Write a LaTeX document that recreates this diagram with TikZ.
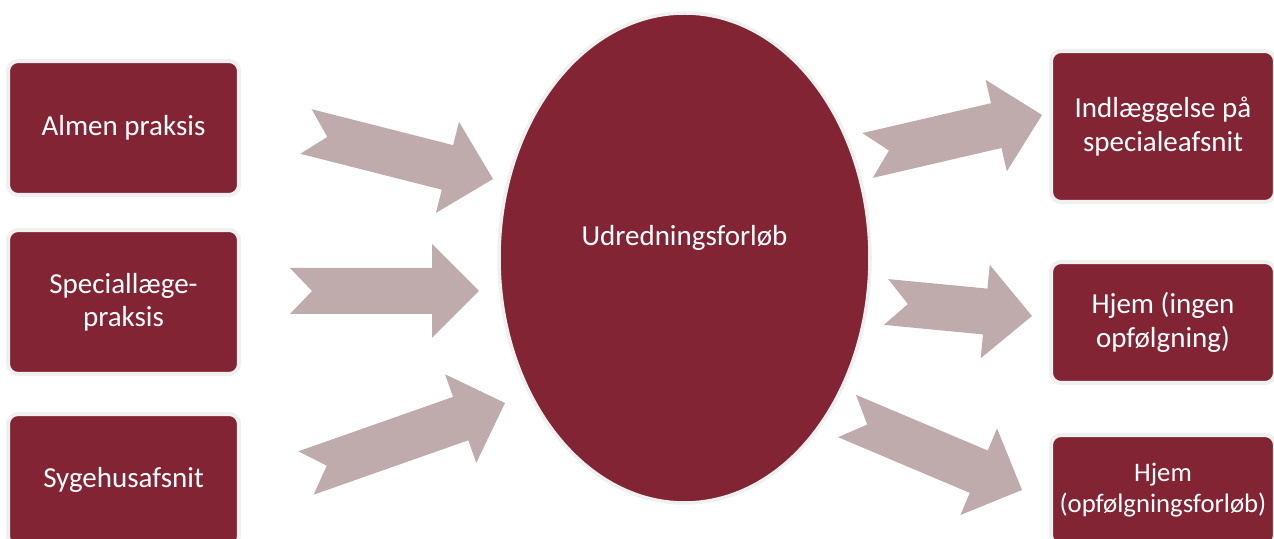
\documentclass[tikz,border=0pt]{standalone}
\usepackage{fontspec}
\setmainfont{Carlito}
\usetikzlibrary{shapes.geometric, positioning, calc}

\definecolor{boxred}{HTML}{822433}
\definecolor{arrowgrey}{HTML}{BFABAC}
\definecolor{rimgrey}{HTML}{EEF1F0}

% fat arrow with notched tail, from #1 (tail) to #2 (tip)
\newcommand{\blockarrow}[2]{%
  \coordinate (headbase) at ($(#2)!0.94cm!(#1)$);
  \fill[arrowgrey]
    ($(#1)!0.46cm!90:(#2)$) -- ($(headbase)!0.46cm!-90:(#1)$)
    -- ($(headbase)!0.94cm!-90:(#1)$) -- (#2)
    -- ($(headbase)!0.94cm!90:(#1)$) -- ($(headbase)!0.46cm!90:(#1)$)
    -- ($(#1)!0.46cm!-90:(#2)$) -- ($(#1)!0.44cm!(#2)$) -- cycle;
}

\begin{document}
\begin{tikzpicture}[
    box/.style={draw=rimgrey, line width=2.3pt, fill=boxred, rounded corners=0.2cm,
      text=white, align=center, inner sep=2pt, font=\fontsize{16.5}{19}\selectfont},
    hub/.style={draw=rimgrey, line width=2pt, fill=boxred, ellipse, inner sep=0pt}
  ]
            \useasboundingbox (0,0) rectangle (25.48,10.78);

            % sources
            \node[box, minimum width=4.62cm, minimum height=2.68cm] (almen) at (2.47,8.22) {Almen praksis};
            \node[box, minimum width=4.62cm, minimum height=2.88cm] (speclaege) at (2.47,4.74) {Speciallæge-\\praksis};
            \node[box, minimum width=4.62cm, minimum height=2.64cm] (sygehus) at (2.47,1.18) {Sygehusafsnit};

            % centre
            \node[
                hub,
                minimum width=7.42cm,
                minimum height=9.8cm,
                label={[text=white, yshift=0.4cm, font=\fontsize{16.5}{19}\selectfont]center:Udredningsforløb}
            ] (udred) at (13.69,5.62) {};

            % outcomes
            \node[box, minimum width=4.48cm, minimum height=3.02cm] (indlaeg) at (23.26,8.25) {Indlæggelse på\\specialeafsnit};
            \node[box, minimum width=4.48cm, minimum height=2.42cm] (hjemingen) at (23.26,4.33) {Hjem (ingen\\opfølgning)};
            \node[box, minimum width=4.48cm, minimum height=2.2cm, font=\fontsize{15.2}{18}\selectfont] (hjemopf) at (23.26,0.98) {Hjem\\(opfølgningsforløb)};

            % arrow ends
            \coordinate (t1) at (6.12,8.15);   \coordinate (h1) at (9.86,7.20);
            \coordinate (t2) at (5.80,4.96);   \coordinate (h2) at (9.58,4.96);
            \coordinate (t3) at (6.12,1.32);   \coordinate (h3) at (10.10,2.72);
            \coordinate (t4) at (17.35,7.67);  \coordinate (h4) at (20.84,8.48);
            \coordinate (t5) at (17.72,4.74);  \coordinate (h5) at (20.64,4.46);
            \coordinate (t6) at (16.94,2.46);  \coordinate (h6) at (20.44,0.98);

            \foreach \i in {1,...,6} {
                \blockarrow{t\i}{h\i}
            }

        \end{tikzpicture}
\end{document}
